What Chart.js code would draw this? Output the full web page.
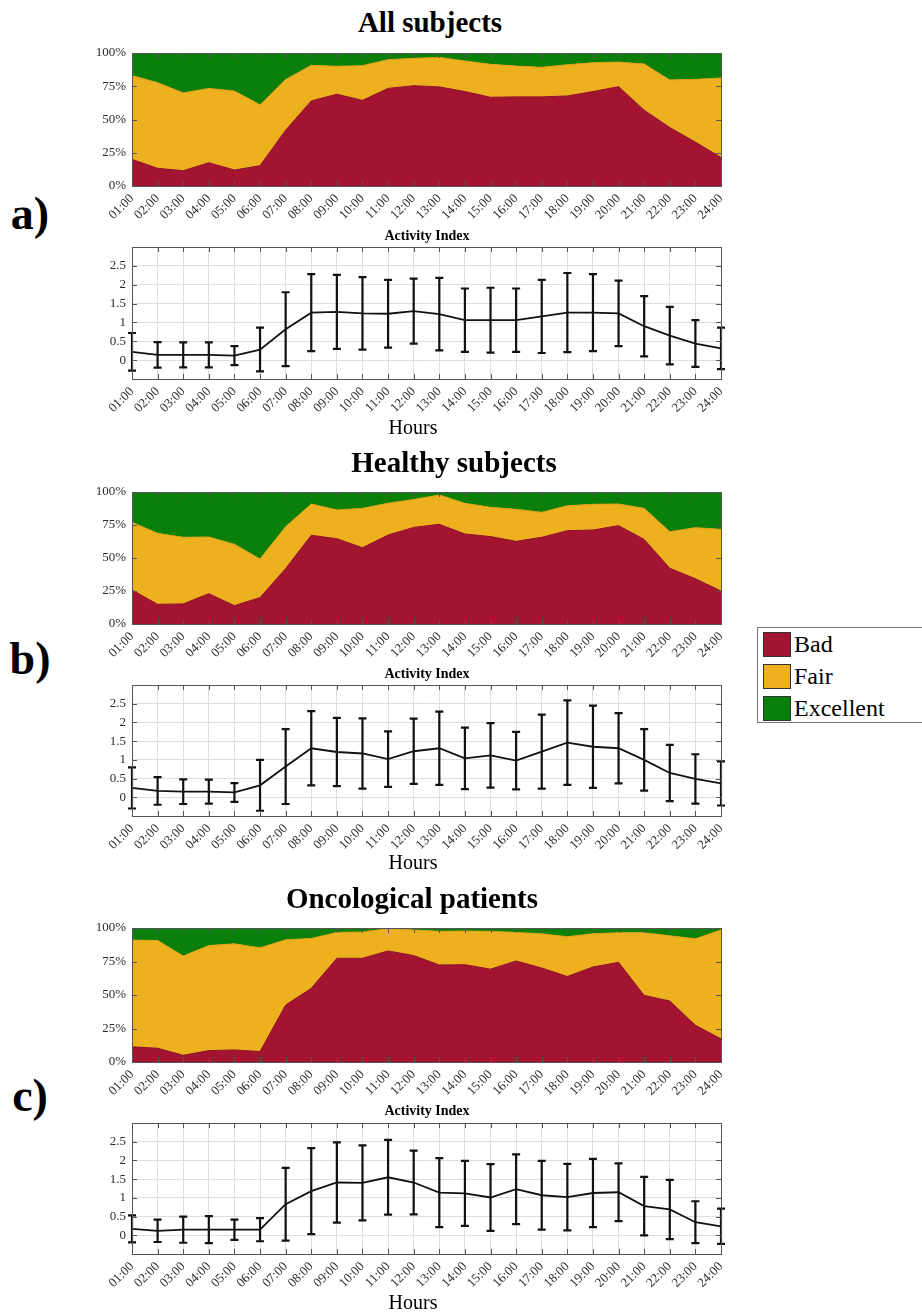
<!DOCTYPE html>
<html>
<head>
<meta charset="utf-8">
<title>Sleep quality and activity index by hour</title>
<script src="https://cdn.jsdelivr.net/npm/chart.js@4.4.1/dist/chart.umd.min.js"></script>
<style>
  body { margin: 0; background: #fff; font-family: "Liberation Serif", "Times New Roman", serif; }
  #page { position: relative; width: 922px; height: 1315px; overflow: hidden; }
  canvas { position: absolute; }
  .txt { position: absolute; transform: translate(-50%, -50%); white-space: nowrap; color: #000; z-index: 2; }
  .title { font-weight: bold; font-size: 29px; }
  .sub { font-weight: bold; font-size: 14px; }
  .hours { font-size: 20px; }
  .panel { font-weight: bold; font-size: 46px; }
  #legend { position: absolute; left: 757px; top: 627px; width: 175px; height: 94px; border: 1px solid #777; background: #fff; z-index: 2; }
  #legend div { position: absolute; left: 5px; font-size: 24px; line-height: 25px; }
  #legend span { display: inline-block; width: 28px; height: 25px; border: 1px solid #333; vertical-align: top; margin-right: 3px; box-sizing: border-box; }
</style>
</head>
<body>
<div id="page">
  <div class="txt title" style="left:430px; top:22px;">All subjects</div>
  <div class="txt panel" style="left:30px; top:213px;">a)</div>
  <div class="txt sub" style="left:427px; top:236px;">Activity Index</div>
  <div class="txt hours" style="left:413px; top:427px;">Hours</div>

  <div class="txt title" style="left:454px; top:462px;">Healthy subjects</div>
  <div class="txt panel" style="left:30px; top:658px;">b)</div>
  <div class="txt sub" style="left:427px; top:674px;">Activity Index</div>
  <div class="txt hours" style="left:413px; top:862px;">Hours</div>

  <div class="txt title" style="left:412px; top:898px;">Oncological patients</div>
  <div class="txt panel" style="left:30px; top:1095px;">c)</div>
  <div class="txt sub" style="left:427px; top:1111px;">Activity Index</div>
  <div class="txt hours" style="left:413px; top:1302px;">Hours</div>

  <canvas id="areaA" width="659" height="196" style="left:72px; top:45px;"></canvas>
  <canvas id="actA" width="659" height="195" style="left:72px; top:239px;"></canvas>
  <canvas id="areaB" width="659" height="195" style="left:72px; top:484px;"></canvas>
  <canvas id="actB" width="659" height="194" style="left:72px; top:677px;"></canvas>
  <canvas id="areaC" width="659" height="197" style="left:72px; top:920px;"></canvas>
  <canvas id="actC" width="659" height="194" style="left:72px; top:1115px;"></canvas>

  <div id="legend">
    <div style="top:4px;"><span style="background:#A2142F"></span>Bad</div>
    <div style="top:36px;"><span style="background:#EDB120"></span>Fair</div>
    <div style="top:68px;"><span style="background:#0A7F0A"></span>Excellent</div>
  </div>
</div>

<script>
var hours = ['01:00', '02:00', '03:00', '04:00', '05:00', '06:00', '07:00', '08:00',
             '09:00', '10:00', '11:00', '12:00', '13:00', '14:00', '15:00', '16:00',
             '17:00', '18:00', '19:00', '20:00', '21:00', '22:00', '23:00', '24:00'];
var percentTicks = [0, 25, 50, 75, 100];
var activityTicks = [0, 0.5, 1, 1.5, 2, 2.5];

// a) all subjects - share of nights per quality class (%)
var badAll = [20, 13.3, 11.5, 17.5, 12, 15.3, 42, 64, 69, 64.4, 73.4, 75.4, 74.5, 71, 66.7, 67, 67, 67.7, 71, 74.7, 57, 44, 33, 21.5];
var fairAll = [63, 64.4, 58.5, 55.9, 59.4, 45.7, 38, 26.7, 21, 26.1, 21.6, 20.6, 22.2, 23, 24.8, 23.2, 22.2, 23.5, 21.7, 18.5, 34.7, 35.7, 47.2, 59.7];
var excAll = [17, 22.3, 30, 26.6, 28.6, 39, 20, 9.3, 10, 9.5, 5, 4, 3.3, 6, 8.5, 9.8, 10.8, 8.8, 7.3, 6.8, 8.3, 20.3, 19.8, 18.8];
var actAll = [0.22, 0.14, 0.14, 0.14, 0.12, 0.28, 0.82, 1.26, 1.28, 1.24, 1.23, 1.3, 1.22, 1.06, 1.06, 1.06, 1.16, 1.26, 1.26, 1.24, 0.9, 0.65, 0.44, 0.31];
var sdAll = [0.5, 0.34, 0.33, 0.33, 0.25, 0.58, 0.98, 1.02, 0.98, 0.96, 0.9, 0.86, 0.96, 0.84, 0.86, 0.84, 0.97, 1.05, 1.02, 0.87, 0.8, 0.76, 0.62, 0.55];

// b) healthy subjects
var badHealthy = [25.8, 14.9, 15.2, 23, 13.9, 20, 42, 67.2, 64.6, 57.8, 67.4, 73.2, 75.5, 68.2, 66.2, 62.6, 65.7, 70.7, 71.2, 74.5, 64.1, 42.2, 34.3, 25];
var fairHealthy = [51.2, 53.8, 50.5, 42.9, 46.5, 29.2, 31.7, 23.7, 21.8, 29.8, 24.1, 21.2, 22.2, 23.2, 22.2, 24.3, 18.9, 18.9, 19.5, 16.4, 23.5, 27.7, 38.7, 46.7];
var excHealthy = [23, 31.3, 34.3, 34.1, 39.6, 50.8, 26.3, 9.1, 13.6, 12.4, 8.5, 5.6, 2.3, 8.6, 11.6, 13.1, 15.4, 10.4, 9.3, 9.1, 12.4, 30.1, 27, 28.3];
var actHealthy = [0.25, 0.17, 0.15, 0.15, 0.13, 0.32, 0.82, 1.31, 1.21, 1.17, 1.02, 1.23, 1.31, 1.04, 1.12, 0.98, 1.22, 1.46, 1.35, 1.31, 1.0, 0.65, 0.49, 0.37];
var sdHealthy = [0.55, 0.37, 0.33, 0.32, 0.25, 0.68, 1.0, 0.99, 0.91, 0.94, 0.74, 0.87, 0.98, 0.82, 0.86, 0.77, 0.99, 1.13, 1.1, 0.94, 0.82, 0.75, 0.66, 0.59];

// c) oncological patients
var badOnco = [11.3, 10.3, 5, 8.5, 9, 7.8, 42.5, 55, 77.4, 77.4, 82.9, 79.4, 72.4, 72.6, 69.3, 75.4, 70.1, 63.8, 70.9, 74.4, 49.7, 45.5, 27.4, 17.3];
var fairOnco = [79.7, 80.4, 74.1, 78.4, 79.2, 77.4, 48.7, 37.2, 19.3, 19.6, 16.6, 19.1, 25.1, 25.1, 28.2, 21.3, 25.6, 29.7, 24.8, 22.1, 46.8, 48.7, 64.6, 81.2];
var excOnco = [9, 9.3, 20.9, 13.1, 11.8, 14.8, 8.8, 7.8, 3.3, 3, 0.5, 1.5, 2.5, 2.3, 2.5, 3.3, 4.3, 6.5, 4.3, 3.5, 3.5, 5.8, 8, 1.5];
var actOnco = [0.17, 0.12, 0.15, 0.15, 0.15, 0.15, 0.83, 1.18, 1.41, 1.4, 1.55, 1.41, 1.14, 1.12, 1.01, 1.23, 1.07, 1.02, 1.13, 1.15, 0.78, 0.69, 0.35, 0.24];
var sdOnco = [0.36, 0.3, 0.35, 0.36, 0.27, 0.31, 0.97, 1.15, 1.07, 1.0, 1.0, 0.85, 0.92, 0.87, 0.89, 0.93, 0.92, 0.89, 0.91, 0.77, 0.78, 0.79, 0.56, 0.47];

var tickFont = { family: 'Liberation Serif', size: 13 };
var tickColor = '#2b2b2b';

// box around the plot, inward tick marks and (optionally) error bars
var framePlugin = {
    id: 'frame',
    afterDatasetsDraw: function(chart, args, opts) {
        var ctx = chart.ctx, a = chart.chartArea;
        var x = chart.scales.x, y = chart.scales.y;
        ctx.save();

        if (opts.sd) {
            var mean = chart.data.datasets[0].data;
            ctx.strokeStyle = '#111';
            ctx.lineWidth = 2.2;
            for (var i = 0; i < mean.length; i++) {
                var px = x.getPixelForValue(i);
                var top = y.getPixelForValue(mean[i] + opts.sd[i]);
                var bot = y.getPixelForValue(mean[i] - opts.sd[i]);
                ctx.beginPath();
                ctx.moveTo(px, top); ctx.lineTo(px, bot);
                ctx.moveTo(px - 4, top); ctx.lineTo(px + 4, top);
                ctx.moveTo(px - 4, bot); ctx.lineTo(px + 4, bot);
                ctx.stroke();
            }
        }

        ctx.strokeStyle = '#555';
        ctx.lineWidth = 1;
        ctx.beginPath();
        x.ticks.forEach(function(t, i) {
            var px = Math.round(x.getPixelForTick(i)) + 0.5;
            ctx.moveTo(px, a.bottom); ctx.lineTo(px, a.bottom - 5);
            ctx.moveTo(px, a.top); ctx.lineTo(px, a.top + 5);
        });
        y.ticks.forEach(function(t) {
            var py = Math.round(y.getPixelForValue(t.value)) + 0.5;
            ctx.moveTo(a.left, py); ctx.lineTo(a.left + 5, py);
            ctx.moveTo(a.right, py); ctx.lineTo(a.right - 5, py);
        });
        ctx.stroke();
        ctx.strokeRect(Math.round(a.left) + 0.5, Math.round(a.top) + 0.5,
                       Math.round(a.right - a.left), Math.round(a.bottom - a.top));
        ctx.restore();
    }
};

function xScale(showGrid) {
    return {
        grid: { display: showGrid, color: '#dedede', drawTicks: false },
        border: { display: false },
        ticks: { font: tickFont, color: tickColor, maxRotation: 45, minRotation: 45, autoSkip: false, padding: 5 },
        afterFit: function(s) { s.height = 55; s.paddingLeft = 0; s.paddingRight = 0; }
    };
}

function yFit(s) { s.width = 60; s.paddingTop = 0; s.paddingBottom = 0; }

function areaChart(id, bad, fair, exc) {
    var ctx = document.getElementById(id).getContext('2d');
    return new Chart(ctx, {
        type: 'line',
        data: {
            labels: hours,
            datasets: [
                { label: 'Bad', data: bad, fill: 'origin', backgroundColor: '#A2142F', borderColor: '#8c1028', borderWidth: 1, pointRadius: 0 },
                { label: 'Fair', data: fair, fill: '-1', backgroundColor: '#EDB120', borderColor: '#d99f18', borderWidth: 1, pointRadius: 0 },
                { label: 'Excellent', data: exc, fill: '-1', backgroundColor: '#0A7F0A', borderColor: '#0A7F0A', borderWidth: 1, pointRadius: 0 }
            ]
        },
        options: {
            responsive: false,
            animation: false,
            devicePixelRatio: 1,
            layout: { padding: { top: 8, right: 10, left: 0, bottom: 0 } },
            plugins: { legend: { display: false }, tooltip: { enabled: false }, frame: {} },
            scales: {
                x: xScale(false),
                y: {
                    stacked: true, min: 0, max: 100,
                    grid: { display: false, drawTicks: false },
                    border: { display: false },
                    afterBuildTicks: function(s) { s.ticks = percentTicks.map(function(v) { return { value: v }; }); },
                    ticks: { font: tickFont, color: tickColor, padding: 6, callback: function(v) { return v + '%'; } },
                    afterFit: yFit
                }
            }
        },
        plugins: [framePlugin]
    });
}

function activityChart(id, mean, sd) {
    var ctx = document.getElementById(id).getContext('2d');
    return new Chart(ctx, {
        type: 'line',
        data: {
            labels: hours,
            datasets: [{ label: 'Activity Index', data: mean, borderColor: '#111', borderWidth: 1.8, pointRadius: 0, fill: false }]
        },
        options: {
            responsive: false,
            animation: false,
            devicePixelRatio: 1,
            layout: { padding: { top: 8, right: 10, left: 0, bottom: 0 } },
            plugins: { legend: { display: false }, tooltip: { enabled: false }, frame: { sd: sd } },
            scales: {
                x: xScale(true),
                y: {
                    min: -0.5, max: 3,
                    grid: { color: '#dedede', drawTicks: false },
                    border: { display: false },
                    ticks: {
                        stepSize: 0.5, font: tickFont, color: tickColor, padding: 6,
                        callback: function(v) { return activityTicks.indexOf(v) >= 0 ? String(v) : ''; }
                    },
                    afterFit: yFit
                }
            }
        },
        plugins: [framePlugin]
    });
}

areaChart('areaA', badAll, fairAll, excAll);
activityChart('actA', actAll, sdAll);
areaChart('areaB', badHealthy, fairHealthy, excHealthy);
activityChart('actB', actHealthy, sdHealthy);
areaChart('areaC', badOnco, fairOnco, excOnco);
activityChart('actC', actOnco, sdOnco);
</script>
</body>
</html>
